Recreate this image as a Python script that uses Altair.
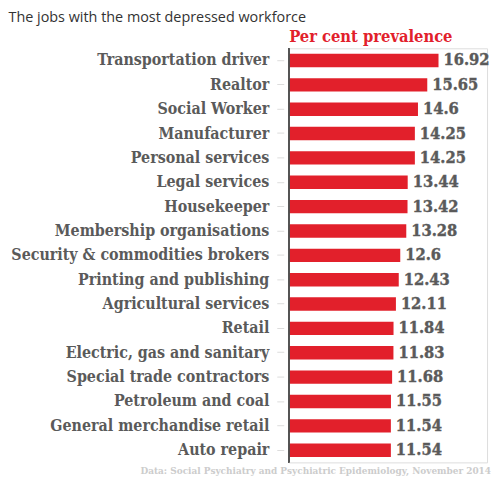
import altair as alt
import pandas as pd

jobs = ["Transportation driver", "Realtor", "Social Worker", "Manufacturer",
        "Personal services", "Legal services", "Housekeeper",
        "Membership organisations", "Security & commodities brokers",
        "Printing and publishing", "Agricultural services", "Retail",
        "Electric, gas and sanitary", "Special trade contractors",
        "Petroleum and coal", "General merchandise retail", "Auto repair"]
values = [16.92, 15.65, 14.6, 14.25, 14.25, 13.44, 13.42, 13.28, 12.6,
          12.43, 12.11, 11.84, 11.83, 11.68, 11.55, 11.54, 11.54]
labels = ["16.92", "15.65", "14.6", "14.25", "14.25", "13.44", "13.42", "13.28",
          "12.6", "12.43", "12.11", "11.84", "11.83", "11.68", "11.55", "11.54", "11.54"]

df = pd.DataFrame({"job": jobs, "value": values, "label": labels})

SLAB = "DejaVu Serif Condensed"
RED = "#e2202b"
GREY = "#5a5a5a"

W, H = 200, 417.5

x = alt.X("value:Q", scale=alt.Scale(domain=[0, 22.4], nice=False, zero=True),
          axis=alt.Axis(orient="top", labels=False, ticks=False, domain=False, grid=False,
                        title="Per cent prevalence", titleColor=RED, titleFont=SLAB,
                        titleFontSize=16.5, titleFontWeight="bold", titleAnchor="start",
                        titleAlign="left", titleX=0, titleY=-7, titleBaseline="alphabetic"))
y = alt.Y("job:N", sort=jobs,
          scale=alt.Scale(paddingInner=0.45, paddingOuter=0.225),
          axis=alt.Axis(title=None, domain=False, offset=5, tickSize=7, tickColor="#dddddd",
                        tickWidth=1, labelPadding=8, labelFont=SLAB, labelFontSize=16,
                        labelFontWeight="bold", labelColor=GREY, labelLimit=300))

bars = alt.Chart(df).mark_bar(color=RED).encode(x=x, y=y)
text = alt.Chart(df).mark_text(align="left", baseline="middle", dx=5, font=SLAB,
                               fontSize=16.5, fontWeight="bold", color=GREY,
                               stroke=GREY, strokeWidth=0.4).encode(
    x="value:Q", y=alt.Y("job:N", sort=jobs), text="label:N")

axis_line = alt.Chart(df).mark_rule(color="#555555", strokeWidth=1).encode(
    x=alt.value(0), y=alt.value(0), y2=alt.value(H))

title_df = pd.DataFrame({"t": ["The jobs with the most depressed workforce"]})
title = alt.Chart(title_df).mark_text(align="left", baseline="alphabetic", font="Open Sans",
                                      fontSize=14.5, color="#333333").encode(
    x=alt.value(-282.5), y=alt.value(-27), text="t:N")

src_df = pd.DataFrame({"t": ["Data: Social Psychiatry and Psychiatric Epidemiology, November 2014"]})
source = alt.Chart(src_df).mark_text(align="right", baseline="alphabetic", font=SLAB,
                                     fontSize=10, fontWeight="bold", color="#cccccc").encode(
    x=alt.value(204), y=alt.value(H + 12), text="t:N")

chart = alt.layer(bars, text, axis_line, title, source).properties(
    width=W, height=H,
    autosize=alt.AutoSizeParams(type="none"),
    padding={"left": 283, "top": 38.7, "right": 5, "bottom": 13.8},
).configure_view(stroke=None).configure(background="white")

chart.save("out.html", embed_options={"renderer": "svg", "actions": False})
